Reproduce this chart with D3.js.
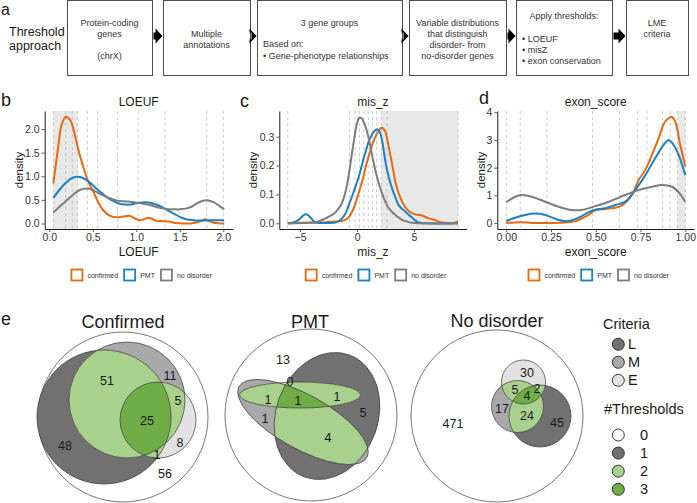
<!DOCTYPE html>
<html><head><meta charset="utf-8">
<script src="https://cdn.jsdelivr.net/npm/d3@7"></script>
<style>
body{margin:0;background:#fff}
svg{font-family:"Liberation Sans",Arial,sans-serif}
</style>
</head><body>
<svg id="c" width="697" height="503"></svg>
<script>
// ================= DATA =================
const groups = ["confirmed", "PMT", "no disorder"];
const groupColors = ["#e8690f", "#1b80c4", "#7d7d7d"];

// Panel a: flow boxes text
const boxLines = [
  ["Protein-coding", "genes", "(chrX)"],
  ["Multiple", "annotations"],
  ["3 gene groups", "Based on:", "• Gene-phenotype relationships"],
  ["Variable distributions", "that distinguish", "disorder- from", "no-disorder genes"],
  ["Apply thresholds:", "• LOEUF", "• misZ", "• exon conservation"],
  ["LME", "criteria"]
];
const rowLabel = ["Threshold", "approach"];

// Panel b: LOEUF densities
const loeufConfX = [0.046,0.10,0.14,0.19,0.24,0.28,0.33,0.39,0.45,0.51,0.56,0.62,0.70,0.77,0.85,0.93,0.98,1.04,1.09,1.14,1.19,1.23,1.31,1.39,1.46,1.54,1.62,1.69,1.75,1.79,1.84,1.88,1.94,2.01];
const loeufConfY = [0.85,1.59,2.08,2.26,2.19,1.98,1.59,1.20,0.88,0.66,0.46,0.28,0.16,0.13,0.15,0.16,0.11,0.07,0.09,0.12,0.09,0.06,0.05,0.035,0.01,0.0,0.0,0.02,0.06,0.09,0.05,0.02,0.005,0.0];
const loeufPmtX = [0.046,0.12,0.20,0.27,0.33,0.38,0.43,0.49,0.54,0.60,0.66,0.73,0.81,0.87,0.93,0.98,1.04,1.10,1.16,1.21,1.27,1.35,1.43,1.50,1.58,1.65,1.73,1.81,1.88,2.01];
const loeufPmtY = [0.54,0.72,0.88,0.97,0.99,0.97,0.92,0.83,0.74,0.65,0.56,0.48,0.42,0.40,0.40,0.42,0.44,0.45,0.44,0.41,0.37,0.29,0.21,0.14,0.085,0.07,0.064,0.066,0.07,0.07];
const loeufNoX = [0.046,0.12,0.20,0.28,0.35,0.43,0.49,0.54,0.60,0.66,0.72,0.77,0.85,0.93,1.00,1.08,1.16,1.23,1.30,1.37,1.43,1.50,1.58,1.64,1.69,1.75,1.81,1.86,1.90,1.95,2.01];
const loeufNoY = [0.23,0.36,0.49,0.62,0.71,0.74,0.72,0.67,0.61,0.56,0.52,0.49,0.47,0.46,0.44,0.42,0.39,0.35,0.32,0.30,0.30,0.30,0.32,0.36,0.42,0.47,0.49,0.47,0.44,0.38,0.30];
const loeufCuts = [0.046,0.188,0.264,0.326,0.437,0.556,0.785,1.02,1.33,1.81,2.0];
const loeufShade = [0.046, 0.326];
const loeufXTicks = [0, 0.5, 1, 1.5, 2];
const loeufYTicks = [0, 0.5, 1, 1.5, 2];

// Panel c: mis_z densities
const misConfX = [-6.08,-5,-4,-3.07,-2.5,-1.9,-1.4,-1.02,-0.7,-0.44,-0.2,0,0.44,0.88,1.32,1.75,2.13,2.3,2.49,2.7,2.92,3.15,3.36,3.65,3.95,4.24,4.53,4.82,5.12,5.41,5.7,6.0,6.29,6.58,6.87,7.16,7.46,7.9,8.33,8.6,8.86];
const misConfY = [0,0.002,0.003,0.003,0.005,0.006,0.008,0.012,0.022,0.04,0.062,0.087,0.144,0.213,0.271,0.311,0.331,0.328,0.317,0.28,0.236,0.19,0.144,0.104,0.075,0.055,0.043,0.035,0.031,0.029,0.027,0.022,0.017,0.014,0.011,0.006,0.003,0.001,0,0.003,0.006];
const misPmtX = [-6.08,-5.6,-5.12,-4.8,-4.53,-4.3,-4.09,-3.85,-3.65,-3.2,-2.5,-1.9,-1.6,-1.32,-1.0,-0.73,-0.5,-0.29,-0.07,0.15,0.37,0.58,0.8,1.02,1.24,1.46,1.75,1.9,2.05,2.27,2.49,2.78,3.07,3.36,3.65,3.95,4.24,4.53,4.82,5.12,5.41,6.29,8.86];
const misPmtY = [0,0.003,0.012,0.024,0.031,0.028,0.02,0.01,0.003,0.001,0.001,0.003,0.008,0.017,0.035,0.063,0.087,0.11,0.135,0.161,0.193,0.225,0.255,0.283,0.302,0.317,0.326,0.322,0.311,0.27,0.213,0.16,0.121,0.09,0.063,0.05,0.04,0.03,0.02,0.01,0.003,0,0];
const misNoX = [-6.08,-5,-4,-3.65,-3.2,-2.78,-2.48,-2.19,-1.9,-1.61,-1.38,-1.17,-0.95,-0.73,-0.51,-0.29,-0.12,0,0.2,0.35,0.5,0.7,0.88,1.1,1.32,1.54,1.75,1.97,2.19,2.48,2.78,3.07,3.36,3.65,3.95,4.4,4.82,5.5,8.86];
const misNoY = [0,0.001,0.002,0.003,0.009,0.017,0.023,0.029,0.038,0.052,0.066,0.087,0.12,0.167,0.225,0.283,0.325,0.346,0.366,0.365,0.358,0.34,0.317,0.28,0.236,0.195,0.161,0.13,0.104,0.075,0.052,0.039,0.029,0.02,0.012,0.006,0.002,0,0];
const misCuts = [-6.08,-0.67,-0.18,0.22,0.6,0.98,1.35,1.7,2.13,2.63,8.86];
const misShade = [2.13, 8.86];
const misXTicks = [-5, 0, 5];
const misYTicks = [0, 0.1, 0.2, 0.3];

// Panel d: exon_score densities
const exonConfX = [0,0.05,0.106,0.13,0.18,0.255,0.3,0.33,0.375,0.404,0.46,0.497,0.553,0.609,0.655,0.702,0.739,0.777,0.814,0.851,0.888,0.926,0.944,0.972,1.0];
const exonConfY = [0,0.02,0.02,0.01,0,0,0.01,0.02,0.05,0.11,0.29,0.46,0.51,0.55,0.67,1.01,1.55,1.92,2.46,3.06,3.66,3.83,3.66,2.82,2.04];
const exonPmtX = [0,0.05,0.106,0.162,0.218,0.292,0.348,0.404,0.46,0.497,0.553,0.609,0.665,0.72,0.777,0.832,0.879,0.907,0.935,0.963,1.0];
const exonPmtY = [0.07,0.19,0.29,0.34,0.29,0.11,0.07,0.19,0.39,0.48,0.53,0.65,0.77,1.19,1.73,2.34,2.82,3.0,2.82,2.46,1.73];
const exonNoX = [0,0.05,0.088,0.143,0.218,0.292,0.367,0.423,0.497,0.572,0.665,0.739,0.814,0.87,0.926,0.963,1.0];
const exonNoY = [0.75,0.95,1.01,0.95,0.77,0.59,0.47,0.47,0.61,0.77,1.01,1.19,1.31,1.37,1.31,1.11,0.77];
const exonCuts = [0,0.078,0.227,0.482,0.633,0.734,0.786,0.873,0.916,0.957,1.0];
const exonShade = [0.957, 1.0];
const exonXTicks = [0, 0.25, 0.5, 0.75, 1];
const exonYTicks = [0, 1, 2, 3, 4];

// Panel e: Venn counts
const vennTitles = ["Confirmed", "PMT", "No disorder"];
const vennRegions = ["L", "M", "E", "LM", "LE", "ME", "LME", "none"];
const confirmedCounts = [48, 11, 8, 51, 1, 5, 25, 56];
const pmtCounts = [5, 1, 0, 4, 1, 1, 1, 13];
const noDisorderCounts = [45, 17, 30, 24, 2, 5, 4, 471];
const criteriaLabels = ["L", "M", "E"];
const thresholdLabels = ["0", "1", "2", "3"];

// ================= STYLE / LAYOUT =================
const colL = "#717171", colM = "#a9a9a9", colE = "#e2e2e2", colG2 = "#a9d18e", colG3 = "#70ad47";
const txt = "#1a1a1a";
const svg = d3.select("#c");
const defs = svg.append("defs");

// ---------- panel a ----------
svg.append("text").attr("x", 1).attr("y", 15).attr("font-size", 16).attr("fill", txt).text("a");
rowLabel.forEach((t, i) => svg.append("text").attr("x", 9).attr("y", 36 + i * 13.5).attr("font-size", 12.5).attr("fill", txt).text(t));

const boxLayout = [
  {x: 67, w: 85, lines: [[22.5, "c"], [33.5, "c"], [56, "c"]]},
  {x: 163, w: 87, lines: [[34, "c"], [45, "c"]]},
  {x: 257, w: 145, lines: [[22.5, "c"], [44, "l"], [56, "l"]]},
  {x: 409, w: 97, lines: [[22.5, "c"], [34, "c"], [45, "c"], [55.5, "c"]]},
  {x: 516, w: 96, lines: [[16, "c"], [39, "l"], [50, "l"], [61, "l"]]},
  {x: 626, w: 62, lines: [[23, "c"], [34, "c"]]}
];
boxLayout.forEach((b, i) => {
  svg.append("rect").attr("x", b.x + 0.5).attr("y", 0.5).attr("width", b.w).attr("height", 75)
    .attr("fill", "#fff").attr("stroke", "#4d4d4d").attr("stroke-width", 1);
  boxLines[i].forEach((t, j) => {
    const [cy, al] = b.lines[j];
    svg.append("text").attr("x", al === "c" ? b.x + b.w / 2 : b.x + 6).attr("y", cy + 3.2)
      .attr("text-anchor", al === "c" ? "middle" : "start").attr("font-size", 9).attr("fill", "#333").text(t);
  });
  if (i < boxLayout.length - 1) {
    const x0 = b.x + b.w + 1.5, x1 = boxLayout[i + 1].x - 0.5, cy = 36;
    const hx = x1 - 7;
    svg.append("path").attr("d", `M${x0},${cy - 3.5}H${hx}V${cy - 7.5}L${x1},${cy}L${hx},${cy + 7.5}V${cy + 3.5}H${x0}Z`).attr("fill", "#000");
  }
});

// ---------- density panels ----------
const PT = 111, PB = 229;
function densityPanel(p) {
  const x = d3.scaleLinear().domain(p.xDomain).range(p.xRange);
  const y = d3.scaleLinear().domain(p.yDomain).range([PB, PT]);
  const g = svg.append("g");
  g.append("rect").attr("x", x(p.shade[0])).attr("width", x(p.shade[1]) - x(p.shade[0]))
    .attr("y", PT).attr("height", PB - PT).attr("fill", "#e8e8e8");
  g.selectAll("line.cut").data(p.cuts).join("line").attr("class", "cut")
    .attr("x1", d => x(d)).attr("x2", d => x(d)).attr("y1", PT).attr("y2", PB)
    .attr("stroke", "#b4b4b4").attr("stroke-width", 0.7).attr("stroke-dasharray", "3,3");
  const line = d3.line().x(d => x(d[0])).y(d => y(d[1])).curve(d3.curveCatmullRom.alpha(0.5));
  p.series.forEach((s, i) => g.append("path").attr("d", line(d3.zip(s[0], s[1])))
    .attr("fill", "none").attr("stroke", groupColors[i]).attr("stroke-width", 2).attr("stroke-linejoin", "round"));
  const xa = g.append("g").attr("transform", `translate(0,${PB})`)
    .call(d3.axisBottom(x).tickValues(p.xTicks).tickFormat(p.xFmt).tickSize(3).tickSizeOuter(0).tickPadding(1.5));
  const ya = g.append("g").attr("transform", `translate(${p.xRange[0]},0)`)
    .call(d3.axisLeft(y).tickValues(p.yTicks).tickFormat(p.yFmt).tickSize(3).tickSizeOuter(0).tickPadding(2));
  [xa, ya].forEach(a => {
    a.select(".domain").attr("stroke", "#000").attr("stroke-width", 0.9);
    a.selectAll(".tick line").attr("stroke", "#333").attr("stroke-width", 0.8);
    a.selectAll(".tick text").attr("font-size", 10.5).attr("fill", "#333").attr("font-family", "Liberation Sans, Arial, sans-serif");
  });
  const cx = (p.xRange[0] + p.xRange[1]) / 2;
  svg.append("text").attr("x", cx).attr("y", 106).attr("text-anchor", "middle").attr("font-size", 12).attr("fill", txt).text(p.title);
  svg.append("text").attr("x", cx).attr("y", 255.5).attr("text-anchor", "middle").attr("font-size", 12).attr("fill", txt).text(p.title);
  svg.append("text").attr("transform", `translate(${p.yTitleX},${(PT + PB) / 2}) rotate(-90)`).attr("text-anchor", "middle")
    .attr("font-size", 11.5).attr("fill", txt).text("density");
  svg.append("text").attr("x", p.letterX).attr("y", p.letterY).attr("font-size", 18).attr("fill", txt).text(p.letter);
  // legend
  const lg = svg.append("g");
  let xx = 0;
  groups.forEach((name, i) => {
    lg.append("rect").attr("x", xx).attr("y", -5.5).attr("width", 11).attr("height", 11)
      .attr("fill", "#fff").attr("stroke", groupColors[i]).attr("stroke-width", 1.8);
    const t = lg.append("text").attr("x", xx + 16).attr("y", 2.5).attr("font-size", 7).attr("fill", "#333").text(name);
    xx += 16 + t.node().getComputedTextLength() + 6;
  });
  const lw = xx - 6;
  lg.attr("transform", `translate(${cx + 3 - lw / 2},275)`);
}

densityPanel({
  xDomain: [-0.053, 2.108], xRange: [44.7, 232.7], yDomain: [-0.1165, 2.383],
  series: [[loeufConfX, loeufConfY], [loeufPmtX, loeufPmtY], [loeufNoX, loeufNoY]],
  cuts: loeufCuts, shade: loeufShade, xTicks: loeufXTicks, yTicks: loeufYTicks,
  xFmt: d3.format(".1f"), yFmt: d3.format(".1f"), title: "LOEUF", yTitleX: 23, letter: "b", letterX: 1, letterY: 106
});
densityPanel({
  xDomain: [-6.82, 9.61], xRange: [279.3, 466.6], yDomain: [-0.0197, 0.389],
  series: [[misConfX, misConfY], [misPmtX, misPmtY], [misNoX, misNoY]],
  cuts: misCuts, shade: misShade, xTicks: misXTicks, yTicks: misYTicks,
  xFmt: d3.format("d"), yFmt: d3.format(".1f"), title: "mis_z", yTitleX: 257, letter: "c", letterX: 240, letterY: 107
});
densityPanel({
  xDomain: [-0.05, 1.05], xRange: [497.3, 694.2], yDomain: [-0.217, 4.048],
  series: [[exonConfX, exonConfY], [exonPmtX, exonPmtY], [exonNoX, exonNoY]],
  cuts: exonCuts, shade: exonShade, xTicks: exonXTicks, yTicks: exonYTicks,
  xFmt: d3.format(".2f"), yFmt: d3.format("d"), title: "exon_score", yTitleX: 485, letter: "d", letterX: 479, letterY: 104
});

// ---------- panel e: Venn ----------
svg.append("text").attr("x", 1).attr("y", 325).attr("font-size", 18).attr("fill", txt).text("e");

const vennLayout = [
  { title: [123, 328], outer: [123, 417, 85],
    L: [104, 417, 67, 67, 0], M: [127, 400, 58, 58, 0], E: [158, 420, 38, 38, 0],
    pos: [[65,445],[170,375],[180,442],[107,380],[157,454],[178,400],[147,420],[165,473]] },
  { title: [310, 328], outer: [311, 415, 86],
    L: [327, 416, 51, 65, 20], M: [303, 422, 73, 27, 29], E: [300, 395, 60.5, 13, 0],
    pos: [[363,412],[265,418],[290,381],[328,437],[337,396],[268,399],[298,400],[283,359]] },
  { title: [497, 327], outer: [497, 416, 86],
    L: [540, 416, 31, 31, 0], M: [517.5, 406.5, 26, 26, 0], E: [523.5, 382, 22, 22, 0],
    pos: [[557,422],[502,408],[527,372],[527,415],[537,388],[515,389],[527,395],[453,423]] }
];
const vennCounts = [confirmedCounts, pmtCounts, noDisorderCounts];

function ell(sel, e) {
  return sel.append("ellipse").attr("cx", e[0]).attr("cy", e[1]).attr("rx", e[2]).attr("ry", e[3])
    .attr("transform", `rotate(${e[4]},${e[0]},${e[1]})`);
}
vennLayout.forEach((v, k) => {
  const g = svg.append("g");
  ["L", "M", "E"].forEach(s => { ell(defs.append("clipPath").attr("id", `cp${k}${s}`), v[s]); });
  g.append("circle").attr("cx", v.outer[0]).attr("cy", v.outer[1]).attr("r", v.outer[2])
    .attr("fill", "#fff").attr("stroke", "#555").attr("stroke-width", 0.8);
  ell(g, v.L).attr("fill", colL);
  ell(g, v.M).attr("fill", colM);
  ell(g, v.E).attr("fill", colE);
  ell(g.append("g").attr("clip-path", `url(#cp${k}M)`), v.L).attr("fill", colG2);
  ell(g.append("g").attr("clip-path", `url(#cp${k}E)`), v.L).attr("fill", colG2);
  ell(g.append("g").attr("clip-path", `url(#cp${k}E)`), v.M).attr("fill", colG2);
  ell(g.append("g").attr("clip-path", `url(#cp${k}M)`).append("g").attr("clip-path", `url(#cp${k}E)`), v.L).attr("fill", colG3);
  ["L", "M", "E"].forEach(s => ell(g, v[s]).attr("fill", "none").attr("stroke", "#3a3a3a").attr("stroke-width", 0.7));
  svg.append("text").attr("x", v.title[0]).attr("y", v.title[1]).attr("text-anchor", "middle")
    .attr("font-size", 18).attr("fill", txt).text(vennTitles[k]);
  vennCounts[k].forEach((c, i) => {
    if (c === null) return;
    svg.append("text").attr("x", v.pos[i][0]).attr("y", v.pos[i][1]).attr("dy", "0.36em")
      .attr("text-anchor", "middle").attr("font-size", 12.5).attr("fill", txt).text(c);
  });
});

// legend
svg.append("text").attr("x", 603).attr("y", 329).attr("font-size", 14.5).attr("fill", txt).text("Criteria");
[colL, colM, colE].forEach((c, i) => {
  svg.append("circle").attr("cx", 618.3).attr("cy", 344.3 + i * 18).attr("r", 6).attr("fill", c).attr("stroke", "#222").attr("stroke-width", 0.9);
  svg.append("text").attr("x", 628).attr("y", 344.3 + i * 18 + 5).attr("font-size", 14.5).attr("fill", txt).text(criteriaLabels[i]);
});
svg.append("text").attr("x", 604).attr("y", 414).attr("font-size", 14.5).attr("fill", txt).text("#Thresholds");
["#ffffff", colL, colG2, colG3].forEach((c, i) => {
  svg.append("circle").attr("cx", 618.3).attr("cy", 435 + i * 18.1).attr("r", 6).attr("fill", c).attr("stroke", "#222").attr("stroke-width", 0.9);
  svg.append("text").attr("x", 640).attr("y", 435 + i * 18.1 + 5).attr("font-size", 14.5).attr("fill", txt).text(thresholdLabels[i]);
});
</script>
</body></html>
